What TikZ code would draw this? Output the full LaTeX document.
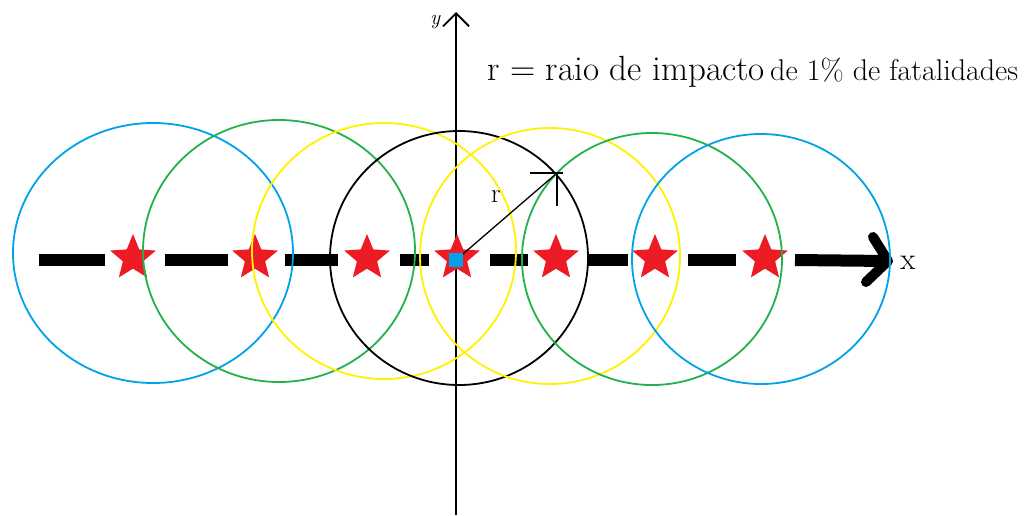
\documentclass[tikz,border=0pt]{standalone}
\usepackage{fontspec}
\usetikzlibrary{shapes.geometric, arrows.meta, positioning}
\definecolor{paintCyan}{HTML}{00A2E8}
\definecolor{paintGreen}{HTML}{22B14C}
\definecolor{paintYellow}{HTML}{FFF200}
\definecolor{paintRed}{HTML}{ED1C24}

\begin{document}
\begin{tikzpicture}[
  x=1pt, y=-1pt,
  impact/.style={line width=1.8pt},
  hit/.style={star, star points=5, star point ratio=2.25, fill=paintRed,
    inner sep=0pt, minimum size=48pt},
  axisline/.style={line width=1.8pt},
  track/.style={line width=12pt},
  label/.style={inner sep=0pt}
]
\useasboundingbox (0,0) rectangle (1026,515);

\coordinate (yBottom) at (456,515);
\coordinate (yTop) at (456,12);
\draw[axisline, -{Straight Barb[length=13pt, width=26pt]}] (yBottom) -- (yTop);
\node[label, font=\fontsize{21}{25}\selectfont\itshape] (yLabel) at (435,22) {y};

\foreach \a/\b in {39/105, 165/228, 285/338, 400/429, 490/528, 588/628, 688/736}
  \draw[track] (\a,260) -- (\b,260);
\coordinate (trackEnd) at (795,260);
\coordinate (xTip) at (888,261);
\draw[track] (trackEnd) -- (xTip);
\draw[line width=10pt, line cap=round, line join=round] (873,237) -- (xTip) -- (866,282);
\node[label, font=\fontsize{31}{36}\selectfont] (xLabel) at (908,263) {x};

\foreach \sx [count=\i] in {133,255,367,457,556,655,765}
  \node[hit] (hit\i) at (\sx,258) {};

\draw[impact, paintCyan] (153,253) ellipse [x radius=140, y radius=130];
\draw[impact, paintGreen] (279,251) ellipse [x radius=136, y radius=131];
\draw[impact, paintYellow] (384,251) ellipse [x radius=132, y radius=128];
\draw[impact, black] (459,258) ellipse [x radius=129, y radius=127];
\draw[impact, paintYellow] (550,256) ellipse [x radius=130, y radius=128];
\draw[impact, paintGreen] (652,259) ellipse [x radius=130, y radius=126];
\draw[impact, paintCyan] (761,259) ellipse [x radius=129, y radius=125];

\coordinate (rimPoint) at (557,173);
\draw[line width=1.3pt] (456,260) -- (rimPoint);
\draw[line width=1.6pt] ([xshift=-27pt]rimPoint) -- ([xshift=6pt]rimPoint);
\draw[line width=1.6pt] (rimPoint) -- ++(0,33);
\node[fill=paintCyan, inner sep=0pt, minimum size=14pt] (origin) at (456,260) {};
\node[label, font=\fontsize{27}{32}\selectfont] (rLabel) at (496,197) {r};

\node[label, anchor=base west, font=\fontsize{35}{42}\selectfont] (impactNote) at (487,80) {r = raio de impacto};
\node[label, base right=5pt of impactNote, font=\fontsize{30}{36}\selectfont] (fatalNote) {de 1\% de fatalidades};
\end{tikzpicture}
\end{document}
